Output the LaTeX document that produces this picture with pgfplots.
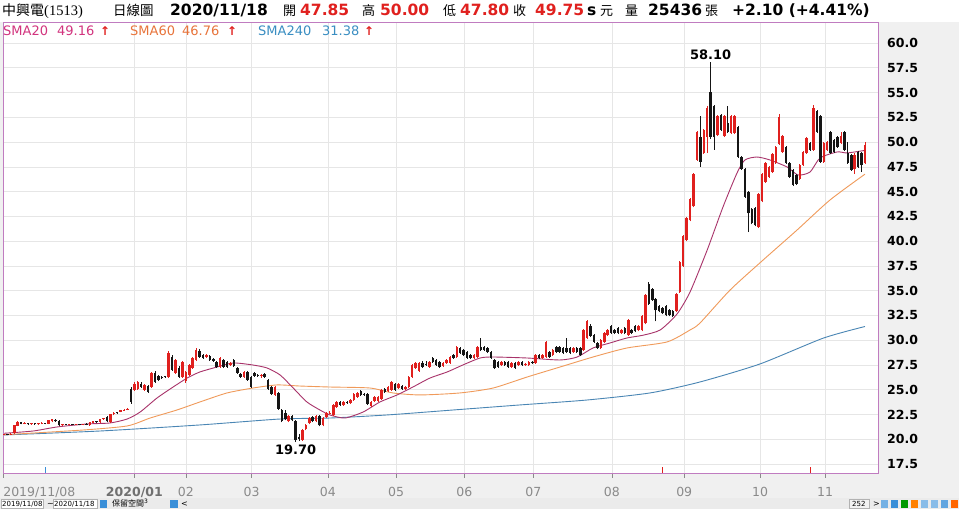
\documentclass[border=0pt]{standalone}
\usepackage{fontspec}
\setmainfont{DejaVu Sans}
\newfontfamily\cjk{Noto Sans CJK TC}
\newfontfamily\tnr{Liberation Serif}
\usepackage{pgfplots}
\usepackage{pgfplotstable}
\pgfplotsset{compat=1.18}
\definecolor{upred}{HTML}{E0201E}
\definecolor{dnblack}{HTML}{151515}
\definecolor{smaA}{HTML}{A8336A}
\definecolor{smaAlab}{HTML}{D2337E}
\definecolor{smaB}{HTML}{F09A5A}
\definecolor{smaBlab}{HTML}{E8743B}
\definecolor{smaC}{HTML}{4A86B4}
\definecolor{smaClab}{HTML}{3A8EC2}
\definecolor{boxpurple}{HTML}{C07CC0}
\definecolor{gridgray}{HTML}{E6E6E6}
\definecolor{bggray}{HTML}{F0F0F0}
\definecolor{labgray}{HTML}{8A8A8A}
\definecolor{labdark}{HTML}{707070}
\definecolor{iconblue}{HTML}{3A8FD8}

\pgfplotstableread{
i o h l c
0 20.45 20.55 20.40 20.50
1 20.50 20.55 20.42 20.45
2 20.45 20.60 20.40 20.55
3 20.60 21.45 20.55 21.40
4 21.35 21.80 21.30 21.70
5 21.70 21.75 21.50 21.55
6 21.55 21.70 21.50 21.60
7 21.60 21.65 21.45 21.50
8 21.50 21.60 21.45 21.55
9 21.55 21.60 21.45 21.50
10 21.50 21.60 21.45 21.55
11 21.55 21.70 21.50 21.60
12 21.60 21.65 21.50 21.55
13 21.55 21.95 21.50 21.90
14 21.80 22.05 21.70 22.00
15 21.95 22.00 21.75 21.80
16 21.80 21.90 21.35 21.40
17 21.40 21.55 21.35 21.50
18 21.50 21.55 21.40 21.45
19 21.45 21.55 21.40 21.50
20 21.50 21.55 21.40 21.45
21 21.45 21.55 21.40 21.50
22 21.50 21.55 21.40 21.45
23 21.45 21.55 21.40 21.50
24 21.50 21.60 21.40 21.45
25 21.40 21.75 21.35 21.70
26 21.65 21.85 21.60 21.80
27 21.80 21.85 21.65 21.70
28 21.70 22.05 21.65 22.00
29 22.00 22.15 21.95 22.10
30 22.20 22.30 21.75 21.80
31 21.70 22.55 21.65 22.50
32 22.50 22.70 22.40 22.60
33 22.70 22.75 22.55 22.60
34 22.75 22.95 22.70 22.90
35 22.90 23.05 22.85 23.00
36 23.00 23.20 22.95 23.10
37 25.10 25.30 23.60 23.80
38 25.00 25.80 24.90 25.60
39 25.10 25.90 25.00 25.80
40 25.60 25.80 25.20 25.30
41 25.00 25.60 24.90 25.50
42 25.40 25.50 24.70 24.80
43 25.30 26.80 25.20 26.70
44 26.70 26.90 25.70 25.80
45 26.40 26.50 25.90 26.00
46 26.30 26.40 26.10 26.20
47 26.30 26.40 26.20 26.25
48 26.30 28.90 26.20 28.70
49 28.30 28.50 26.90 27.00
50 26.70 28.10 26.60 28.00
51 27.20 27.40 26.20 26.30
52 26.30 27.90 26.20 27.80
53 25.90 26.90 25.70 26.80
54 26.50 27.60 26.40 27.50
55 27.20 28.30 27.10 28.20
56 28.00 29.20 27.90 29.00
57 28.90 29.10 28.20 28.30
58 28.50 28.60 28.10 28.20
59 28.30 28.60 28.20 28.50
60 28.40 28.50 27.90 28.00
61 28.10 28.20 27.80 27.90
62 27.80 27.90 27.20 27.30
63 27.30 28.30 27.20 28.20
64 28.00 28.10 27.20 27.30
65 27.80 27.90 27.20 27.30
66 27.50 27.80 27.40 27.70
67 28.00 28.10 27.30 27.40
68 27.20 27.30 26.60 26.70
69 26.60 26.70 26.20 26.30
70 26.30 26.90 26.20 26.80
71 26.80 26.90 25.90 26.00
72 26.30 26.40 25.20 25.30
73 26.70 26.80 26.30 26.40
74 26.50 26.60 26.30 26.40
75 26.40 26.60 26.20 26.50
76 26.60 26.70 26.20 26.30
77 26.00 26.10 25.00 25.10
78 25.30 25.40 24.50 24.60
79 24.50 25.40 24.40 25.30
80 24.70 24.80 23.00 23.10
81 23.00 23.10 21.70 21.80
82 22.60 23.00 21.90 22.00
83 21.80 22.40 21.70 22.30
84 22.30 22.40 21.80 21.90
85 21.80 21.90 19.70 19.90
86 20.20 20.50 19.80 20.00
87 19.90 21.00 19.80 20.90
88 21.00 21.50 20.90 21.40
89 21.60 22.20 21.50 22.10
90 22.20 22.30 21.70 21.80
91 21.80 22.40 21.70 22.30
92 22.30 22.40 21.30 21.40
93 21.40 22.20 21.30 22.10
94 22.20 22.70 22.10 22.60
95 22.55 22.80 22.50 22.60
96 22.40 23.60 22.30 23.50
97 23.30 23.90 23.20 23.80
98 23.80 23.90 23.40 23.50
99 23.50 23.90 23.40 23.80
100 23.80 23.90 23.60 23.70
101 23.70 24.10 23.60 24.00
102 24.00 24.70 23.90 24.60
103 24.30 24.80 24.20 24.70
104 24.90 25.00 24.40 24.50
105 24.60 24.70 24.40 24.50
106 24.60 24.70 23.50 23.60
107 23.40 23.90 23.30 23.80
108 23.90 24.40 23.80 24.30
109 23.90 24.40 23.80 24.30
110 24.10 25.10 24.00 25.00
111 25.10 25.20 24.70 24.80
112 24.90 25.40 24.80 25.30
113 25.00 25.90 24.90 25.80
114 25.60 25.70 24.90 25.00
115 25.20 25.70 25.10 25.60
116 25.40 25.50 25.00 25.10
117 25.10 25.40 25.00 25.30
118 25.30 26.40 25.20 26.30
119 26.30 27.60 26.20 27.50
120 27.20 27.80 27.10 27.70
121 26.90 27.80 26.80 27.70
122 27.70 27.90 27.20 27.30
123 27.60 27.90 27.40 27.50
124 27.30 27.90 27.20 27.80
125 28.20 28.30 27.70 27.80
126 28.00 28.10 27.40 27.50
127 27.80 27.90 27.20 27.30
128 27.40 27.80 27.30 27.70
129 27.70 28.10 27.60 28.00
130 27.70 28.40 27.60 28.30
131 28.50 28.60 28.10 28.20
132 28.30 29.40 28.20 29.30
133 29.20 29.30 28.60 28.70
134 29.00 29.10 28.40 28.50
135 28.80 28.90 28.10 28.20
136 28.50 28.60 28.10 28.20
137 28.20 28.60 28.10 28.50
138 28.30 29.40 28.20 29.30
139 29.30 30.20 28.90 29.00
140 29.30 29.40 28.90 29.00
141 29.20 29.30 28.70 28.80
142 28.80 28.90 28.10 28.20
143 28.00 28.10 27.10 27.20
144 27.80 27.90 27.20 27.30
145 27.50 27.90 27.40 27.80
146 27.80 27.90 27.40 27.50
147 27.80 27.90 27.20 27.30
148 27.30 27.80 27.20 27.70
149 27.70 27.80 27.10 27.20
150 27.50 27.90 27.40 27.80
151 27.80 27.90 27.40 27.50
152 27.50 27.70 27.40 27.60
153 27.50 27.90 27.40 27.80
154 27.80 27.90 27.60 27.70
155 27.70 28.60 27.60 28.50
156 28.50 28.60 28.10 28.20
157 28.20 28.60 28.10 28.50
158 28.30 29.90 28.20 29.80
159 28.80 28.90 28.20 28.30
160 28.50 29.10 28.40 29.00
161 29.30 29.40 28.70 28.80
162 29.30 29.40 28.70 28.80
163 29.20 29.30 28.60 28.70
164 29.20 30.20 28.70 28.80
165 29.20 29.30 28.60 28.70
166 28.80 29.30 28.70 29.20
167 29.20 29.30 28.70 28.80
168 29.20 29.30 28.40 28.50
169 29.00 31.10 28.90 31.00
170 30.20 32.00 30.10 31.90
171 31.40 31.60 30.30 30.40
172 30.50 30.60 29.70 29.80
173 29.70 29.80 29.10 29.20
174 29.20 30.10 29.10 30.00
175 29.80 30.80 29.70 30.70
176 30.50 31.10 30.40 31.00
177 31.40 31.50 30.60 30.70
178 31.00 31.10 30.60 30.70
179 31.20 31.30 30.60 30.70
180 30.70 31.10 30.60 31.00
181 31.20 31.30 30.60 30.70
182 30.50 32.10 30.40 32.00
183 31.00 31.10 30.60 30.70
184 31.40 31.50 30.80 30.90
185 31.00 31.50 30.90 31.40
186 31.00 32.50 30.90 32.40
187 31.70 34.70 31.60 34.60
188 35.70 35.90 33.60 33.70
189 35.20 35.30 34.00 34.10
190 34.20 34.30 31.90 33.00
191 33.40 33.50 32.80 32.90
192 33.20 33.30 32.60 32.70
193 33.40 33.50 32.40 32.50
194 33.00 33.10 32.40 32.50
195 32.90 33.00 32.30 32.40
196 32.90 34.80 32.80 34.70
197 34.90 38.00 34.80 37.90
198 37.50 40.60 37.40 40.50
199 40.10 42.40 40.00 42.30
200 42.10 44.40 42.00 44.30
201 43.50 46.90 43.40 46.80
202 48.20 51.10 48.10 51.00
203 50.50 52.60 47.50 48.00
204 48.90 51.30 48.80 51.20
205 50.50 53.60 48.90 53.40
206 55.10 58.10 50.30 50.50
207 53.60 53.70 49.20 50.50
208 50.70 52.70 50.60 52.60
209 52.70 52.80 51.10 51.20
210 50.60 52.70 50.50 52.60
211 51.90 53.60 50.90 51.00
212 50.90 52.70 50.80 52.60
213 50.90 52.70 50.80 52.60
214 51.50 51.60 48.40 48.50
215 48.50 48.60 47.20 47.30
216 47.30 47.40 44.40 44.50
217 45.00 45.10 40.90 42.80
218 43.20 43.30 41.70 41.80
219 43.30 43.40 41.50 41.60
220 41.40 44.90 41.30 44.80
221 44.00 46.90 43.90 46.80
222 46.00 48.00 45.90 47.90
223 46.50 47.60 46.40 47.50
224 47.00 48.90 46.90 48.80
225 47.90 49.60 47.80 49.50
226 49.80 52.80 49.70 52.50
227 49.00 50.70 48.90 50.60
228 49.50 49.60 47.80 47.90
229 47.90 48.00 46.40 46.50
230 47.20 47.30 45.60 45.70
231 46.70 46.80 45.70 45.80
232 46.30 47.80 46.20 47.70
233 47.70 49.10 47.60 49.00
234 48.90 50.50 48.80 50.40
235 49.90 50.00 49.10 49.20
236 49.20 53.70 49.10 53.40
237 53.10 53.20 50.90 51.00
238 52.60 52.70 47.90 48.00
239 48.00 50.00 47.90 49.90
240 49.20 50.10 49.10 50.00
241 51.00 51.10 48.80 48.90
242 50.20 50.30 48.90 49.00
243 50.50 50.60 49.40 49.50
244 49.90 51.00 49.80 50.60
245 51.00 51.10 49.10 49.20
246 48.90 50.00 47.80 47.90
247 48.70 48.80 47.10 47.20
248 47.30 48.90 46.80 48.70
249 49.00 49.10 47.40 47.50
250 48.90 49.00 47.00 47.65
251 47.85 50.00 47.80 49.75
}\ohlc

\begin{document}
\begin{tikzpicture}
\fill[bggray] (-3bp,-36bp) rectangle (956bp,473bp);
\fill[white] (-3bp,451bp) rectangle (956bp,473bp);
\fill[gray!16] (-3bp,-36bp) rectangle (956bp,-25bp);
\begin{axis}[
  scale only axis, width=875bp, height=451bp,
  at={(0,0)}, anchor=south west,
  xmin=-0.3, xmax=254.8, ymin=16.59, ymax=62.12,
  axis background/.style={fill=white},
  axis line style={draw=boxpurple, line width=0.8bp},
  grid=major, grid style={draw=gridgray, line width=0.6bp},
  ytick={17.5,20,22.5,25,27.5,30,32.5,35,37.5,40,42.5,45,47.5,50,52.5,55,57.5,60},
  yticklabels={17.5,20.0,22.5,25.0,27.5,30.0,32.5,35.0,37.5,40.0,42.5,45.0,47.5,50.0,52.5,55.0,57.5,60.0},
  yticklabel pos=right,
  ytick style={draw=none},
  yticklabel style={anchor=west, inner sep=0pt, xshift=4bp, font=\bfseries\fontsize{12.5bp}{14bp}\selectfont, text=black},
  xtick={-0.2,38,53,72.2,94.4,114.3,134.2,154.3,177.2,198.3,220.4,239.4},
  xticklabels={\makebox[0pt][l]{2019/11/08},{\textbf{\color{labdark}2020/01}},02,03,04,05,06,07,08,09,10,11},
  xtick pos=bottom, tick align=outside, major tick length=5bp,
  xtick style={draw=labgray, line width=0.6bp},
  xticklabel style={anchor=north, inner sep=0pt, yshift=-9bp, font=\fontsize{12.5bp}{14bp}\selectfont, text=labgray},
  candle/.style={draw=none, mark=none, forget plot},
]
% SMA lines
\addplot[smaC, line width=0.9bp, smooth, tension=0.4, mark=none] coordinates {
(0,20.43) (28,20.83) (57.1,21.44) (80.5,22.04) (95,22.14) (111.7,22.45) (130.9,22.95) (150.4,23.46) (170,23.96) (188.3,24.67) (202.9,25.78) (220.4,27.6) (238.8,30.2) (251,31.38)};
\addplot[smaB, line width=0.9bp, smooth, tension=0.4, mark=none] coordinates {
(0,20.45) (23,20.93) (35.9,21.34) (42.6,22.14) (50.4,22.95) (57.1,23.76) (65,24.67) (72.6,25.17) (79.6,25.48) (86.3,25.37) (95,25.27) (106.7,25.17) (113.4,24.67) (121.3,24.47) (132.9,24.67) (142.6,25.17) (152.5,26.28) (162.1,27.29) (171.7,28.30) (181.6,29.21) (193.3,29.82) (200,31.03) (202.9,31.73) (211.7,35.07) (221.3,38.09) (231.2,41.12) (240.8,44.15) (251,46.76)};
\addplot[smaA, line width=0.9bp, smooth, tension=0.4, mark=none] coordinates {
(0,20.6) (8.5,20.83) (15.5,21.24) (24.2,21.54) (30.9,21.64) (35.9,22.04) (39.7,22.75) (44.6,24.16) (49.3,25.27) (53.4,26.18) (57.1,26.79) (62.1,27.29) (66.8,27.70) (72.6,27.49) (76.7,27.19) (80.5,26.48) (84.3,25.17) (88.3,23.76) (92.1,22.95) (95,22.45) (99.4,22.14) (104.7,22.75) (109.6,23.76) (114.6,24.47) (119.2,25.27) (124.2,26.18) (129.2,26.79) (133.8,27.50) (138.8,28.20) (142.6,28.30) (152.5,28.20) (162.1,28.0) (167.1,28.30) (171.7,29.21) (176.7,29.72) (181.6,30.22) (186.3,30.5) (191.3,31.03) (196.2,32.64) (200,34.86) (205,39.10) (209.6,43.44) (213.7,46.88) (216,48.19) (219.5,48.49) (223.3,48.19) (228.3,47.48) (231.5,46.67) (235,46.98) (237.9,48.39) (242.9,49.0) (245.8,48.9) (251,49.16)};
% event markers
\addplot[ycomb, iconblue, line width=0.8bp, mark=none] coordinates {(12,17.2)};
\addplot[ycomb, upred, line width=0.8bp, mark=none] coordinates {(192,17.2) (235,17.2)};
% wicks
\addplot[candle, restrict expr to domain={\thisrow{c}-\thisrow{o}}{0:100},
  error bars/.cd, y dir=plus, y explicit, error mark=none,
  error bar style={line width=0.8bp, draw=upred}]
  table[x=i, y=l, y error plus expr={\thisrow{h}-\thisrow{l}}] {\ohlc};
\addplot[candle, restrict expr to domain={\thisrow{c}-\thisrow{o}}{-100:-0.001},
  error bars/.cd, y dir=plus, y explicit, error mark=none,
  error bar style={line width=0.8bp, draw=dnblack}]
  table[x=i, y=l, y error plus expr={\thisrow{h}-\thisrow{l}}] {\ohlc};
% bodies
\addplot[candle, restrict expr to domain={\thisrow{c}-\thisrow{o}}{0:100},
  error bars/.cd, y dir=plus, y explicit, error mark=none,
  error bar style={line width=2.5bp, draw=upred}]
  table[x=i, y=o, y error plus expr={max(\thisrow{c}-\thisrow{o},0.1)}] {\ohlc};
\addplot[candle, restrict expr to domain={\thisrow{c}-\thisrow{o}}{-100:-0.001},
  error bars/.cd, y dir=plus, y explicit, error mark=none,
  error bar style={line width=2.5bp, draw=dnblack}]
  table[x=i, y=c, y error plus expr={max(\thisrow{o}-\thisrow{c},0.1)}] {\ohlc};
\node[anchor=south, inner sep=0pt, font=\bfseries\fontsize{13bp}{14bp}\selectfont] at (axis cs:206,58.1) [yshift=2bp] {58.10};
\node[anchor=north, inner sep=0pt, font=\bfseries\fontsize{13bp}{14bp}\selectfont] at (axis cs:85,19.7) [yshift=-2bp] {19.70};
\end{axis}
% header
\begin{scope}[every node/.style={inner sep=0pt, anchor=base west}]
\node at (-1bp,457bp) {\cjk\fontsize{14bp}{16bp}\selectfont 中興電};
\node at (41bp,457bp) {\tnr\fontsize{14.5bp}{16bp}\selectfont (1513)};
\node at (110bp,457bp) {\cjk\fontsize{13.5bp}{16bp}\selectfont 日線圖};
\node at (167bp,457bp) {\bfseries\fontsize{15.5bp}{17bp}\selectfont 2020/11/18};
\node at (280bp,457bp) {\cjk\fontsize{13bp}{16bp}\selectfont 開};
\node at (297bp,457bp) {\bfseries\fontsize{15.5bp}{17bp}\selectfont\color{upred}47.85};
\node at (359bp,457bp) {\cjk\fontsize{13bp}{16bp}\selectfont 高};
\node at (377bp,457bp) {\bfseries\fontsize{15.5bp}{17bp}\selectfont\color{upred}50.00};
\node at (440bp,457bp) {\cjk\fontsize{13bp}{16bp}\selectfont 低};
\node at (457bp,457bp) {\bfseries\fontsize{15.5bp}{17bp}\selectfont\color{upred}47.80};
\node at (510bp,457bp) {\cjk\fontsize{13bp}{16bp}\selectfont 收};
\node at (532bp,457bp) {\bfseries\fontsize{15.5bp}{17bp}\selectfont\color{upred}49.75};
\node at (584bp,457bp) {\bfseries\fontsize{15.5bp}{17bp}\selectfont s};
\node at (597bp,457bp) {\cjk\fontsize{13bp}{16bp}\selectfont 元};
\node at (622bp,457bp) {\cjk\fontsize{13bp}{16bp}\selectfont 量};
\node at (645bp,457bp) {\bfseries\fontsize{15.5bp}{17bp}\selectfont 25436};
\node at (702bp,457bp) {\cjk\fontsize{13bp}{16bp}\selectfont 張};
\node at (729bp,457bp) {\bfseries\fontsize{15.5bp}{17bp}\selectfont +2.10 (+4.41\%)};
% SMA legend row
\node at (0bp,437bp) {\fontsize{13bp}{14bp}\selectfont\color{smaAlab}SMA20};
\node at (54bp,437bp) {\fontsize{13bp}{14bp}\selectfont\color{smaAlab}49.16};
\node at (97bp,437bp) {\bfseries\fontsize{12bp}{14bp}\selectfont\color{upred}↑};
\node at (127bp,437bp) {\fontsize{13bp}{14bp}\selectfont\color{smaBlab}SMA60};
\node at (179bp,437bp) {\fontsize{13bp}{14bp}\selectfont\color{smaBlab}46.76};
\node at (224bp,437bp) {\bfseries\fontsize{12bp}{14bp}\selectfont\color{upred}↑};
\node at (255bp,437bp) {\fontsize{13bp}{14bp}\selectfont\color{smaClab}SMA240};
\node at (319bp,437bp) {\fontsize{13bp}{14bp}\selectfont\color{smaClab}31.38};
\node at (361bp,437bp) {\bfseries\fontsize{12bp}{14bp}\selectfont\color{upred}↑};
% bottom strip
\draw[gray!60, fill=white] (-2bp,-35.5bp) rectangle (40bp,-26bp);
\node at (-1bp,-33.5bp) {\fontsize{7bp}{8bp}\selectfont 2019/11/08};
\node at (44bp,-33.5bp) {\fontsize{8bp}{8bp}\selectfont\textasciitilde};
\draw[gray!60, fill=white] (50bp,-35.5bp) rectangle (94bp,-26bp);
\node at (51bp,-33.5bp) {\fontsize{7bp}{8bp}\selectfont 2020/11/18};
\fill[iconblue] (97bp,-35bp) rectangle (104bp,-27bp);
\node at (109bp,-33.5bp) {\cjk\fontsize{8bp}{8bp}\selectfont 保留空間};
\node at (141bp,-30bp) {\fontsize{6bp}{6bp}\selectfont 3};
\fill[iconblue] (167bp,-35bp) rectangle (175bp,-27bp);
\node at (178bp,-33.5bp) {\fontsize{8bp}{8bp}\selectfont <};
\draw[gray!60, fill=gray!10] (846bp,-35.5bp) rectangle (866bp,-26bp);
\node at (849bp,-33.5bp) {\fontsize{7bp}{8bp}\selectfont 252};
\node at (870bp,-33.5bp) {\fontsize{8bp}{8bp}\selectfont >};
\fill[iconblue!70] (878bp,-35bp) rectangle (885bp,-27bp);
\fill[iconblue] (888bp,-35bp) rectangle (895bp,-27bp);
\fill[green!60!black] (898bp,-35bp) rectangle (905bp,-27bp);
\fill[orange] (908bp,-35bp) rectangle (915bp,-27bp);
\fill[iconblue!60] (918bp,-35bp) rectangle (925bp,-27bp);
\fill[iconblue!60] (928bp,-35bp) rectangle (935bp,-27bp);
\fill[iconblue!80] (938bp,-35bp) rectangle (945bp,-27bp);
\fill[orange!80!red] (948bp,-35bp) rectangle (955bp,-27bp);
\end{scope}
\pgfresetboundingbox
\useasboundingbox (-3bp,-36bp) rectangle (956bp,473bp);
\end{tikzpicture}
\end{document}
